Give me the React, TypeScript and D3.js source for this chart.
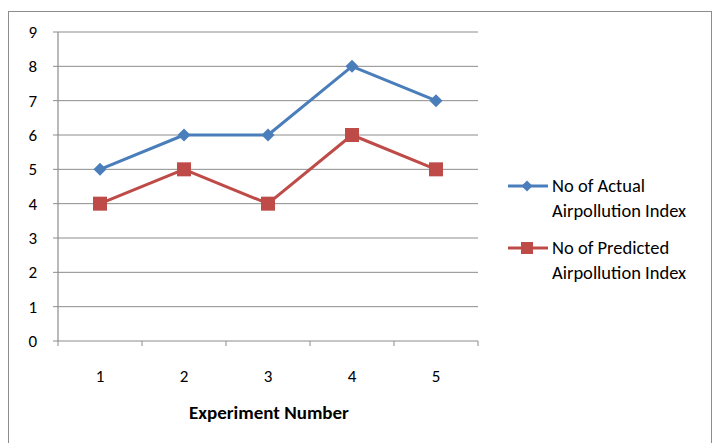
import React from "react";
import * as d3 from "d3";

const categories = ["1", "2", "3", "4", "5"];
const actual = [5, 6, 6, 8, 7];
const predicted = [4, 5, 4, 6, 5];
const yTicks = [0, 1, 2, 3, 4, 5, 6, 7, 8, 9];
const seriesNames = [
  ["No of Actual", "Airpollution Index"],
  ["No of Predicted", "Airpollution Index"],
];
const xTitle = "Experiment Number";

const W = 715, H = 443;
const plot = { left: 58, right: 478, top: 32, bottom: 341 };
const blue = "#4A7EBB";
const red = "#BE4B48";
const grid = "#8C8C8C";
const font = "Carlito, 'Open Sans', 'Liberation Sans', sans-serif";
const fs = 18.5;

export default function App() {
  const x = d3.scaleBand<string>().domain(categories).range([plot.left, plot.right]);
  const y = d3.scaleLinear().domain([0, 9]).range([plot.bottom, plot.top]);
  const cx = (c: string) => (x(c) as number) + x.bandwidth() / 2;
  const line = d3
    .line<number>()
    .x((_, i) => cx(categories[i]))
    .y((d) => y(d));
  const bounds = categories.map((c) => x(c) as number).concat([plot.right]);

  const diamond = (px: number, py: number, r = 6.5) =>
    `M${px},${py - r}L${px + r},${py}L${px},${py + r}L${px - r},${py}Z`;

  const legendY = [186, 248];
  return (
    <svg width={W} height={H} style={{ position: "absolute", left: 0, top: 0 }}>
      <rect x={0} y={0} width={W} height={H} fill="#fff" />
      <rect x={8.5} y={11.5} width={703} height={450} fill="none" stroke="#8c8c8c" strokeWidth={1} />
      {yTicks.map((t) => (
        <g key={t}>
          <line x1={plot.left - 5} x2={plot.right} y1={y(t)} y2={y(t)} stroke={grid} strokeWidth={1} />
          <text x={37} y={y(t)} dy="0.35em" textAnchor="end" fontFamily={font} fontSize={17} fill="#000">
            {t}
          </text>
        </g>
      ))}
      <line x1={plot.left} x2={plot.left} y1={plot.top} y2={plot.bottom} stroke={grid} strokeWidth={1.2} />
      {bounds.map((b, i) => (
        <line key={i} x1={b} x2={b} y1={plot.bottom} y2={plot.bottom + 5} stroke={grid} strokeWidth={1} />
      ))}
      {categories.map((c) => (
        <text key={c} x={cx(c)} y={376} dy="0.35em" textAnchor="middle" fontFamily={font} fontSize={17} fill="#000">
          {c}
        </text>
      ))}
      <text x={269} y={412} dy="0.35em" textAnchor="middle" fontFamily={font} fontSize={fs + 0.5} fontWeight="bold" fill="#000">
        {xTitle}
      </text>
      <path d={line(actual) as string} fill="none" stroke={blue} strokeWidth={3} strokeLinejoin="round" />
      <path d={line(predicted) as string} fill="none" stroke={red} strokeWidth={3} strokeLinejoin="round" />
      {actual.map((v, i) => (
        <path key={"a" + i} d={diamond(cx(categories[i]), y(v))} fill={blue} />
      ))}
      {predicted.map((v, i) => (
        <rect key={"p" + i} x={cx(categories[i]) - 7} y={y(v) - 7} width={14} height={14} fill={red} />
      ))}
      {seriesNames.map((names, i) => {
        const ly = legendY[i];
        const col = i === 0 ? blue : red;
        return (
          <g key={i}>
            <line x1={508} x2={548} y1={ly} y2={ly} stroke={col} strokeWidth={3} />
            {i === 0 ? (
              <path d={diamond(527, ly, 5.5)} fill={col} />
            ) : (
              <rect x={521} y={ly - 6} width={12} height={12} fill={col} />
            )}
            <text x={552} y={ly} dy="0.35em" fontFamily={font} fontSize={fs} fill="#000">
              {names[0]}
            </text>
            <text x={552} y={ly + 25} dy="0.35em" fontFamily={font} fontSize={fs} fill="#000">
              {names[1]}
            </text>
          </g>
        );
      })}
    </svg>
  );
}
